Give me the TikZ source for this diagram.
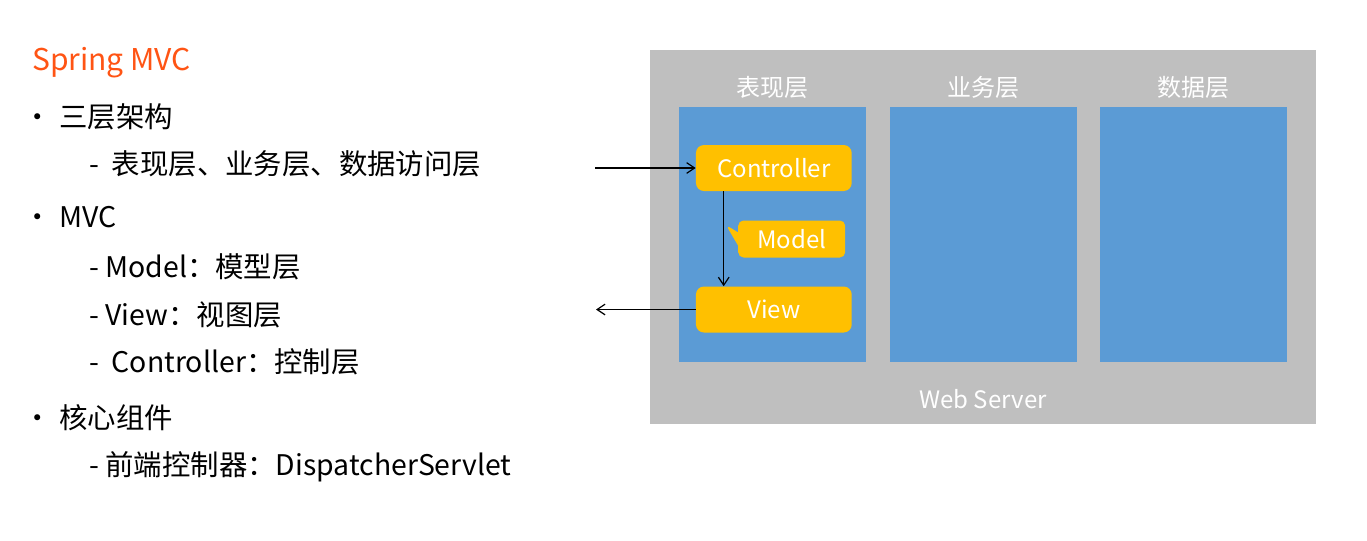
\documentclass[tikz,border=0pt]{standalone}
\usepackage{fontspec}
\newfontfamily\cjk{Noto Sans CJK SC}
\usetikzlibrary{shapes.callouts}
\usetikzlibrary{arrows.meta}
\definecolor{springorange}{RGB}{255,84,20}
\definecolor{servergray}{RGB}{191,191,191}
\definecolor{layerblue}{RGB}{91,155,213}
\definecolor{mvcyellow}{RGB}{255,192,0}

\begin{document}
\begin{tikzpicture}[x=0.75pt,y=-0.75pt,
  >={Straight Barb[length=6pt,width=8pt]},
  every node/.style={font=\cjk},
  item/.style={anchor=base west,inner sep=0pt,
    font=\cjk\fontsize{21.3}{25}\selectfont},
  dot/.style={anchor=base,inner sep=0pt,
    font=\cjk\fontsize{21.3}{25}\selectfont},
  layer/.style={fill=layerblue,inner sep=0pt,
    minimum width=140.25pt,minimum height=191.25pt},
  layername/.style={text=white,font=\cjk\fontsize{18}{22}\selectfont},
  mvcbox/.style={fill=mvcyellow,rounded corners=6pt,text=white,
    font=\cjk\fontsize{18}{22}\selectfont,inner sep=0pt,
    minimum width=116.8pt,minimum height=34.5pt}]
  \useasboundingbox
    (0,0)
    rectangle
    (1367,540);

  \node[item,text=springorange,font=\cjk\fontsize{22.5}{26}\selectfont]
    (title) at (32,70) {Spring MVC};
  \node[dot] (dottier) at (38,127.6) {•};
  \node[item] (tier) at (59,127.6) {三层架构};
  \node[item] (tiers) at (89,174.6) {-\ \ 表现层、业务层、数据访问层};
  \node[dot] (dotmvc) at (38,227) {•};
  \node[item] (mvc) at (59,227) {MVC};
  \node[item] (mvcmodel) at (89,277) {- Model：模型层};
  \node[item] (mvcview) at (89,325) {- View：视图层};
  \node[item] (mvcctrl) at (89,372) {-\ \ Controller：控制层};
  \node[dot] (dotcore) at (38,428) {•};
  \node[item] (core) at (59,428) {核心组件};
  \node[item] (dispatcher) at (89,475) {- 前端控制器：DispatcherServlet};

  \node[fill=servergray,inner sep=0pt,
    minimum width=499.5pt,minimum height=280.5pt]
    (server) at (983,237) {};
  \node[layername] (servername) at (983,399) {Web Server};
  \foreach \name/\x/\label in {pres/772.5/表现层,biz/983/业务层,data/1193.5/数据层}
  {
    \node[layer] (\name) at (\x,234.5) {};
    \node[layername] (\name name) at (\x,87) {\label};
  }

  \node[mvcbox] (ctrl) at (773.85,168) {Controller};
  \node[mvcbox] (view) at (773.85,309.5) {View};
  \node[mvcbox,rounded corners=4pt,rectangle callout,
    callout absolute pointer={(726,225)},callout pointer width=10pt,
    minimum width=80.25pt,minimum height=27.75pt]
    (model) at (791.7,239) {Model};

  \coordinate (request) at (595,168);
  \coordinate (response) at (596,309.5);
  \draw[->,line width=0.9pt]
    (request)
    --
    (ctrl.west);
  \draw[->,line width=0.9pt]
    ([xshift=21pt]ctrl.south west)
    --
    ([xshift=21pt]view.north west);
  \draw[->,line width=0.9pt]
    (view.west)
    --
    (response);
\end{tikzpicture}
\end{document}
